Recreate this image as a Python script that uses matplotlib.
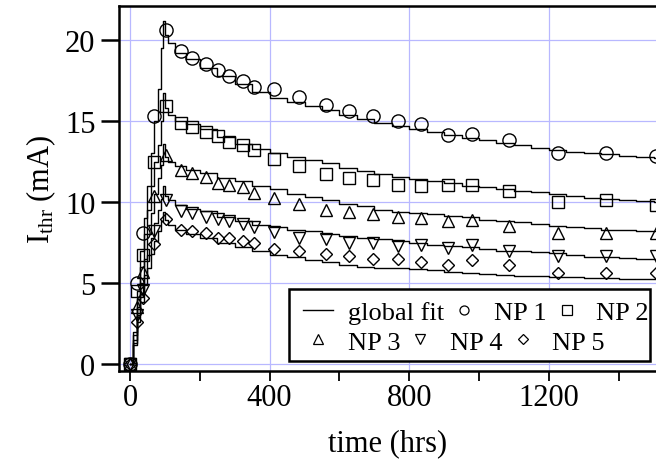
import matplotlib.pyplot as plt
from matplotlib.lines import Line2D
from matplotlib.patches import Rectangle

plt.rcParams['font.family'] = ['Liberation Serif', 'DejaVu Serif']
plt.rcParams['mathtext.fontset'] = 'custom'
plt.rcParams['mathtext.rm'] = 'Liberation Serif'
plt.rcParams['mathtext.it'] = 'Liberation Serif:italic'

# measured points (hrs, mA)
t = [0, 20, 36, 70, 104, 146, 177, 218, 253, 285, 323, 354, 414, 485, 562,
     628, 697, 767, 834, 912, 980, 1087, 1225, 1364, 1507]
np1 = [0, 5.0, 8.1, 15.3, 20.6, 19.3, 18.9, 18.5, 18.15, 17.8, 17.5, 17.1, 17.0,
       16.5, 16.0, 15.6, 15.3, 15.0, 14.8, 14.15, 14.2, 13.85, 13.0, 13.0, 12.85]
np2 = [0, 4.5, 6.7, 12.5, 15.9, 14.9, 14.65, 14.3, 14.1, 13.7, 13.5, 13.2, 12.65,
       12.2, 11.7, 11.5, 11.35, 11.05, 11.0, 11.05, 11.05, 10.7, 10.0, 10.1, 9.8]
np3 = [0, 3.5, 5.7, 10.4, 12.9, 12.0, 11.8, 11.55, 11.2, 11.05, 10.9, 10.55, 10.25,
       9.9, 9.5, 9.4, 9.25, 9.05, 9.0, 8.85, 8.9, 8.5, 8.1, 8.1, 8.1]
np4 = [0, 3.0, 4.6, 8.2, 10.15, 9.45, 9.3, 9.1, 8.95, 8.8, 8.65, 8.45, 8.15,
       7.8, 7.7, 7.5, 7.5, 7.3, 7.35, 7.15, 7.35, 7.0, 6.65, 6.65, 6.65]
np5 = [0, 2.6, 4.1, 7.4, 8.95, 8.3, 8.2, 8.1, 7.8, 7.75, 7.6, 7.45, 7.1,
       7.0, 6.8, 6.65, 6.5, 6.5, 6.3, 6.1, 6.4, 6.1, 5.65, 5.65, 5.65]

# global fit
tf = [0, 10, 20, 30, 40, 50, 60, 70, 80, 90, 95, 100, 110, 130, 160, 200, 250,
      300, 350, 400, 450, 500, 550, 600, 650, 700, 750, 800, 850, 900, 950,
      1000, 1050, 1100, 1150, 1200, 1250, 1300, 1350, 1400, 1450, 1500, 1550]
fit1 = [0, 2, 4.5, 7, 9, 11, 13, 15, 17, 19.5, 21.2, 20.3, 19.8, 19.2, 18.8,
        18.25, 17.8, 17.3, 16.8, 16.45, 16.2, 15.95, 15.65, 15.4, 15.15, 14.9,
        14.7, 14.5, 14.35, 14.15, 13.95, 13.8, 13.65, 13.5, 13.35, 13.2, 13.1,
        13.0, 12.95, 12.85, 12.75, 12.7, 12.65]
fit2 = [0, 1.8, 4, 6, 8, 9.5, 11, 12.5, 13.5, 15, 16.7, 15.8, 15.4, 15.0, 14.8,
        14.5, 14.0, 13.6, 13.3, 13.05, 12.8, 12.6, 12.4, 12.1, 11.9, 11.7,
        11.55, 11.4, 11.3, 11.15, 11.0, 10.9, 10.8, 10.7, 10.6, 10.5, 10.4,
        10.25, 10.2, 10.1, 10.05, 10.0, 9.95]
fit3 = [0, 1.5, 3.5, 5, 6.5, 8, 9.3, 10.5, 11.5, 12.3, 13.6, 12.8, 12.5, 12.2,
        12.0, 11.8, 11.5, 11.3, 11.0, 10.8, 10.5, 10.3, 10.1, 9.9, 9.75, 9.5,
        9.4, 9.35, 9.25, 9.15, 9.05, 8.9, 8.8, 8.75, 8.65, 8.55, 8.45, 8.4,
        8.3, 8.25, 8.2, 8.2, 8.15]
fit4 = [0, 1.3, 3, 4.3, 5.5, 6.7, 7.8, 8.7, 9.5, 10.2, 11.0, 10.4, 10.1, 9.8,
        9.6, 9.45, 9.1, 8.85, 8.6, 8.45, 8.3, 8.2, 8.05, 7.9, 7.8, 7.7, 7.6,
        7.45, 7.35, 7.3, 7.2, 7.1, 7.0, 6.95, 6.9, 6.85, 6.7, 6.6, 6.6, 6.55,
        6.5, 6.5, 6.45]
fit5 = [0, 1.2, 2.6, 3.8, 4.9, 5.9, 6.8, 7.6, 8.2, 8.8, 9.4, 8.9, 8.6, 8.3,
        8.0, 7.75, 7.45, 7.2, 6.95, 6.75, 6.6, 6.45, 6.3, 6.1, 6.0, 5.9, 5.9,
        5.85, 5.8, 5.7, 5.65, 5.55, 5.5, 5.45, 5.45, 5.4, 5.35, 5.3, 5.3,
        5.25, 5.25, 5.25, 5.25]

fig = plt.figure(figsize=(6.56, 4.77), dpi=100)
ax = fig.add_axes([119 / 656, 1 - 372 / 477, 1 - 119 / 656, 365 / 477])

grid_c = '#b8b8ff'
for gx in [0, 400, 800, 1200]:
    ax.axvline(gx, color=grid_c, lw=0.9, zorder=0)
for gy in [0, 5, 10, 15, 20]:
    ax.axhline(gy, color=grid_c, lw=0.9, zorder=0)

for f in [fit1, fit2, fit3, fit4, fit5]:
    ax.plot(tf, f, color='black', lw=1.0, drawstyle='steps-post', zorder=2)

mk = dict(color='none', mfc='none', mec='black', mew=1.0, ls='none', zorder=3)
ax.plot(t, np1, marker='o', ms=9.5, **mk)
ax.plot(t, np2, marker='s', ms=8.5, **mk)
ax.plot(t, np3, marker='^', ms=9, **mk)
ax.plot(t, np4, marker='v', ms=9, **mk)
ax.plot(t, np5, marker='D', ms=6.5, **mk)

ax.set_xlim(-31.5, 1507)
ax.set_ylim(-0.43, 22.1)

for s in ['left', 'bottom', 'top']:
    ax.spines[s].set_linewidth(1.8)
ax.spines['right'].set_visible(False)

ax.set_xticks([0, 400, 800, 1200])
ax.set_xticks([200, 600, 1000, 1400], minor=True)
ax.set_yticks([0, 5, 10, 15, 20])
ax.tick_params(axis='y', direction='out', length=13, width=1.8, labelsize=22, pad=4)
ax.tick_params(axis='x', which='both', direction='out', length=7, width=1.3,
               labelsize=22, pad=2)

ax.set_xlabel('time (hrs)', fontsize=22, labelpad=11)
ax.set_ylabel(r'$\mathrm{I_{thr}}$ (mA)', fontsize=22, labelpad=5)

# legend: framed box holding two rows
ax.add_patch(Rectangle((0.3166, 0.0274), 0.6723, 0.1973, transform=ax.transAxes,
                       facecolor='white', edgecolor='black', lw=1.8, zorder=4))
lk = dict(color='none', mfc='none', mec='black', mew=0.9, ls='none')
h_fit = Line2D([], [], color='black', lw=1.0)
h1 = Line2D([], [], marker='o', ms=6.5, **lk)
h2 = Line2D([], [], marker='s', ms=6.5, **lk)
h3 = Line2D([], [], marker='^', ms=6.5, **lk)
h4 = Line2D([], [], marker='v', ms=6.5, **lk)
h5 = Line2D([], [], marker='D', ms=5, **lk)
lopts = dict(ncol=3, loc='center left', fontsize=19, frameon=False,
             handlelength=1.14, handletextpad=0.55, columnspacing=0.2,
             borderpad=0, borderaxespad=0)
leg1 = ax.legend([h_fit, h1, h2], ['global fit', 'NP 1', 'NP 2'],
                 bbox_to_anchor=(0.3426, 0.1616), **lopts)
leg1.set_zorder(5)
ax.add_artist(leg1)
leg2 = ax.legend([h3, h4, h5], ['NP 3', 'NP 4', 'NP 5'],
                 bbox_to_anchor=(0.3426, 0.0795), **lopts)
leg2.set_zorder(5)

fig.savefig('out.png', dpi=100)
